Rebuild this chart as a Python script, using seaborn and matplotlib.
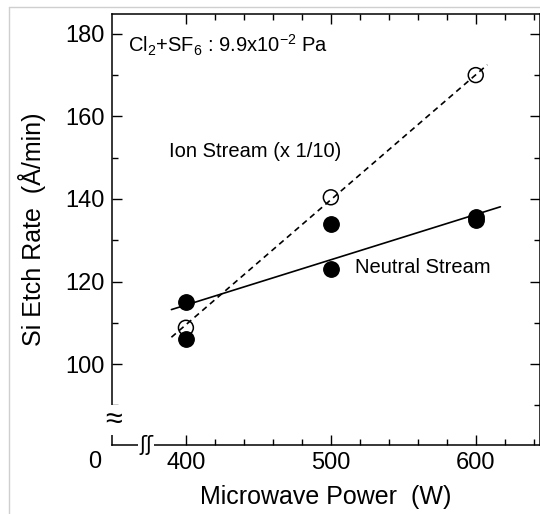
import numpy as np
import pandas as pd
import matplotlib
matplotlib.use("Agg")
import matplotlib.pyplot as plt
import seaborn as sns

# ---- data ----
ion_power = [400, 500, 600]
ion_rate = [108.8, 140.4, 170.0]

neutral_power = [400, 400, 500, 500, 600, 600]
neutral_rate = [115.0, 106.0, 134.0, 123.0, 135.6, 134.9]

ion_fit_power = [390, 608]
ion_fit_rate = [106.5, 172.5]
neutral_fit_power = [390, 617]
neutral_fit_rate = [113.2, 138.1]

x_ticks = [400, 500, 600]
x_tick_labels = ["400", "500", "600"]
y_ticks = [100, 120, 140, 160, 180]
y_tick_labels = ["100", "120", "140", "160", "180"]

sns.set_theme(style="ticks")
plt.rcParams["font.family"] = ["Liberation Sans", "DejaVu Sans"]
plt.rcParams["mathtext.default"] = "regular"
for k in ["text.color", "axes.labelcolor", "xtick.color", "ytick.color", "axes.edgecolor"]:
    plt.rcParams[k] = "black"

fig = plt.figure(figsize=(5.4, 5.14), dpi=100)
ax = fig.add_axes([112 / 540, 1 - 445 / 514, (539.5 - 112) / 540, (445 - 14) / 514])

# faint scan border
fig.add_artist(plt.Line2D([9 / 540, 9 / 540], [0, 1 - 7 / 514], transform=fig.transFigure,
                          color="#cfcfcf", lw=1))
fig.add_artist(plt.Line2D([9 / 540, 1], [1 - 7 / 514, 1 - 7 / 514], transform=fig.transFigure,
                          color="#cfcfcf", lw=1))

ion_df = pd.DataFrame({"power": ion_power, "rate": ion_rate})
neu_df = pd.DataFrame({"power": neutral_power, "rate": neutral_rate})
ion_fit = pd.DataFrame({"power": ion_fit_power, "rate": ion_fit_rate})
neu_fit = pd.DataFrame({"power": neutral_fit_power, "rate": neutral_fit_rate})

sns.lineplot(data=ion_fit, x="power", y="rate", ax=ax, color="black", lw=1.2,
             linestyle=(0, (3.5, 2.6)))
sns.lineplot(data=neu_fit, x="power", y="rate", ax=ax, color="black", lw=1.2)
sns.scatterplot(data=neu_df, x="power", y="rate", ax=ax, s=125, color="black",
                edgecolor="black", zorder=5)
sns.scatterplot(data=ion_df, x="power", y="rate", ax=ax, s=115, facecolor="none",
                edgecolor="black", linewidth=1.1, zorder=5)

ax.set_xlim(349, 644)
ax.set_ylim(80.4, 184.8)
ax.set_xticks(x_ticks)
ax.set_xticklabels(x_tick_labels)
ax.set_yticks(y_ticks)
ax.set_yticklabels(y_tick_labels)
ax.set_xticks(np.arange(420, 644, 20), minor=True)
ax.set_yticks(np.arange(90, 184, 10), minor=True)
ax.tick_params(which="both", direction="in", top=True, right=True, width=1.0, color="black")
ax.tick_params(which="major", length=7, labelsize=17)
ax.tick_params(which="minor", length=4)
ax.tick_params(axis="x", which="major", pad=5)
ax.tick_params(axis="y", which="major", pad=5)
for sp in ax.spines.values():
    sp.set_linewidth(1.1)
    sp.set_color("black")

ax.set_xlabel("Microwave Power  (W)", fontsize=18, labelpad=8)
ax.set_ylabel("Si Etch Rate  (Å/min)", fontsize=18, labelpad=14)

# annotations
ax.text(360, 175.5, r"Cl$_2$+SF$_6$ : 9.9x10$^{-2}$ Pa", fontsize=14.5, ha="left",
        va="baseline")
ax.text(388.5, 150.2, "Ion Stream (x 1/10)", fontsize=14.5, ha="left", va="baseline")
ax.text(517, 122.0, "Neutral Stream", fontsize=14.5, ha="left", va="baseline")

# origin label and axis breaks
ax.text(-0.04, -0.04, "0", transform=ax.transAxes, fontsize=17, ha="center", va="center")
ax.text(0.003, 0.057, "≈", transform=ax.transAxes, fontsize=22, ha="center", va="center",
        family="Liberation Sans",
        bbox=dict(boxstyle="square,pad=0.0", fc="white", ec="none"), clip_on=False)
ax.text(0.08, 0.0, "ʃʃ", transform=ax.transAxes, fontsize=15, ha="center", va="center",
        family="DejaVu Sans",
        bbox=dict(boxstyle="square,pad=0.05", fc="white", ec="none"), clip_on=False)

fig.savefig("out.png", dpi=100)
